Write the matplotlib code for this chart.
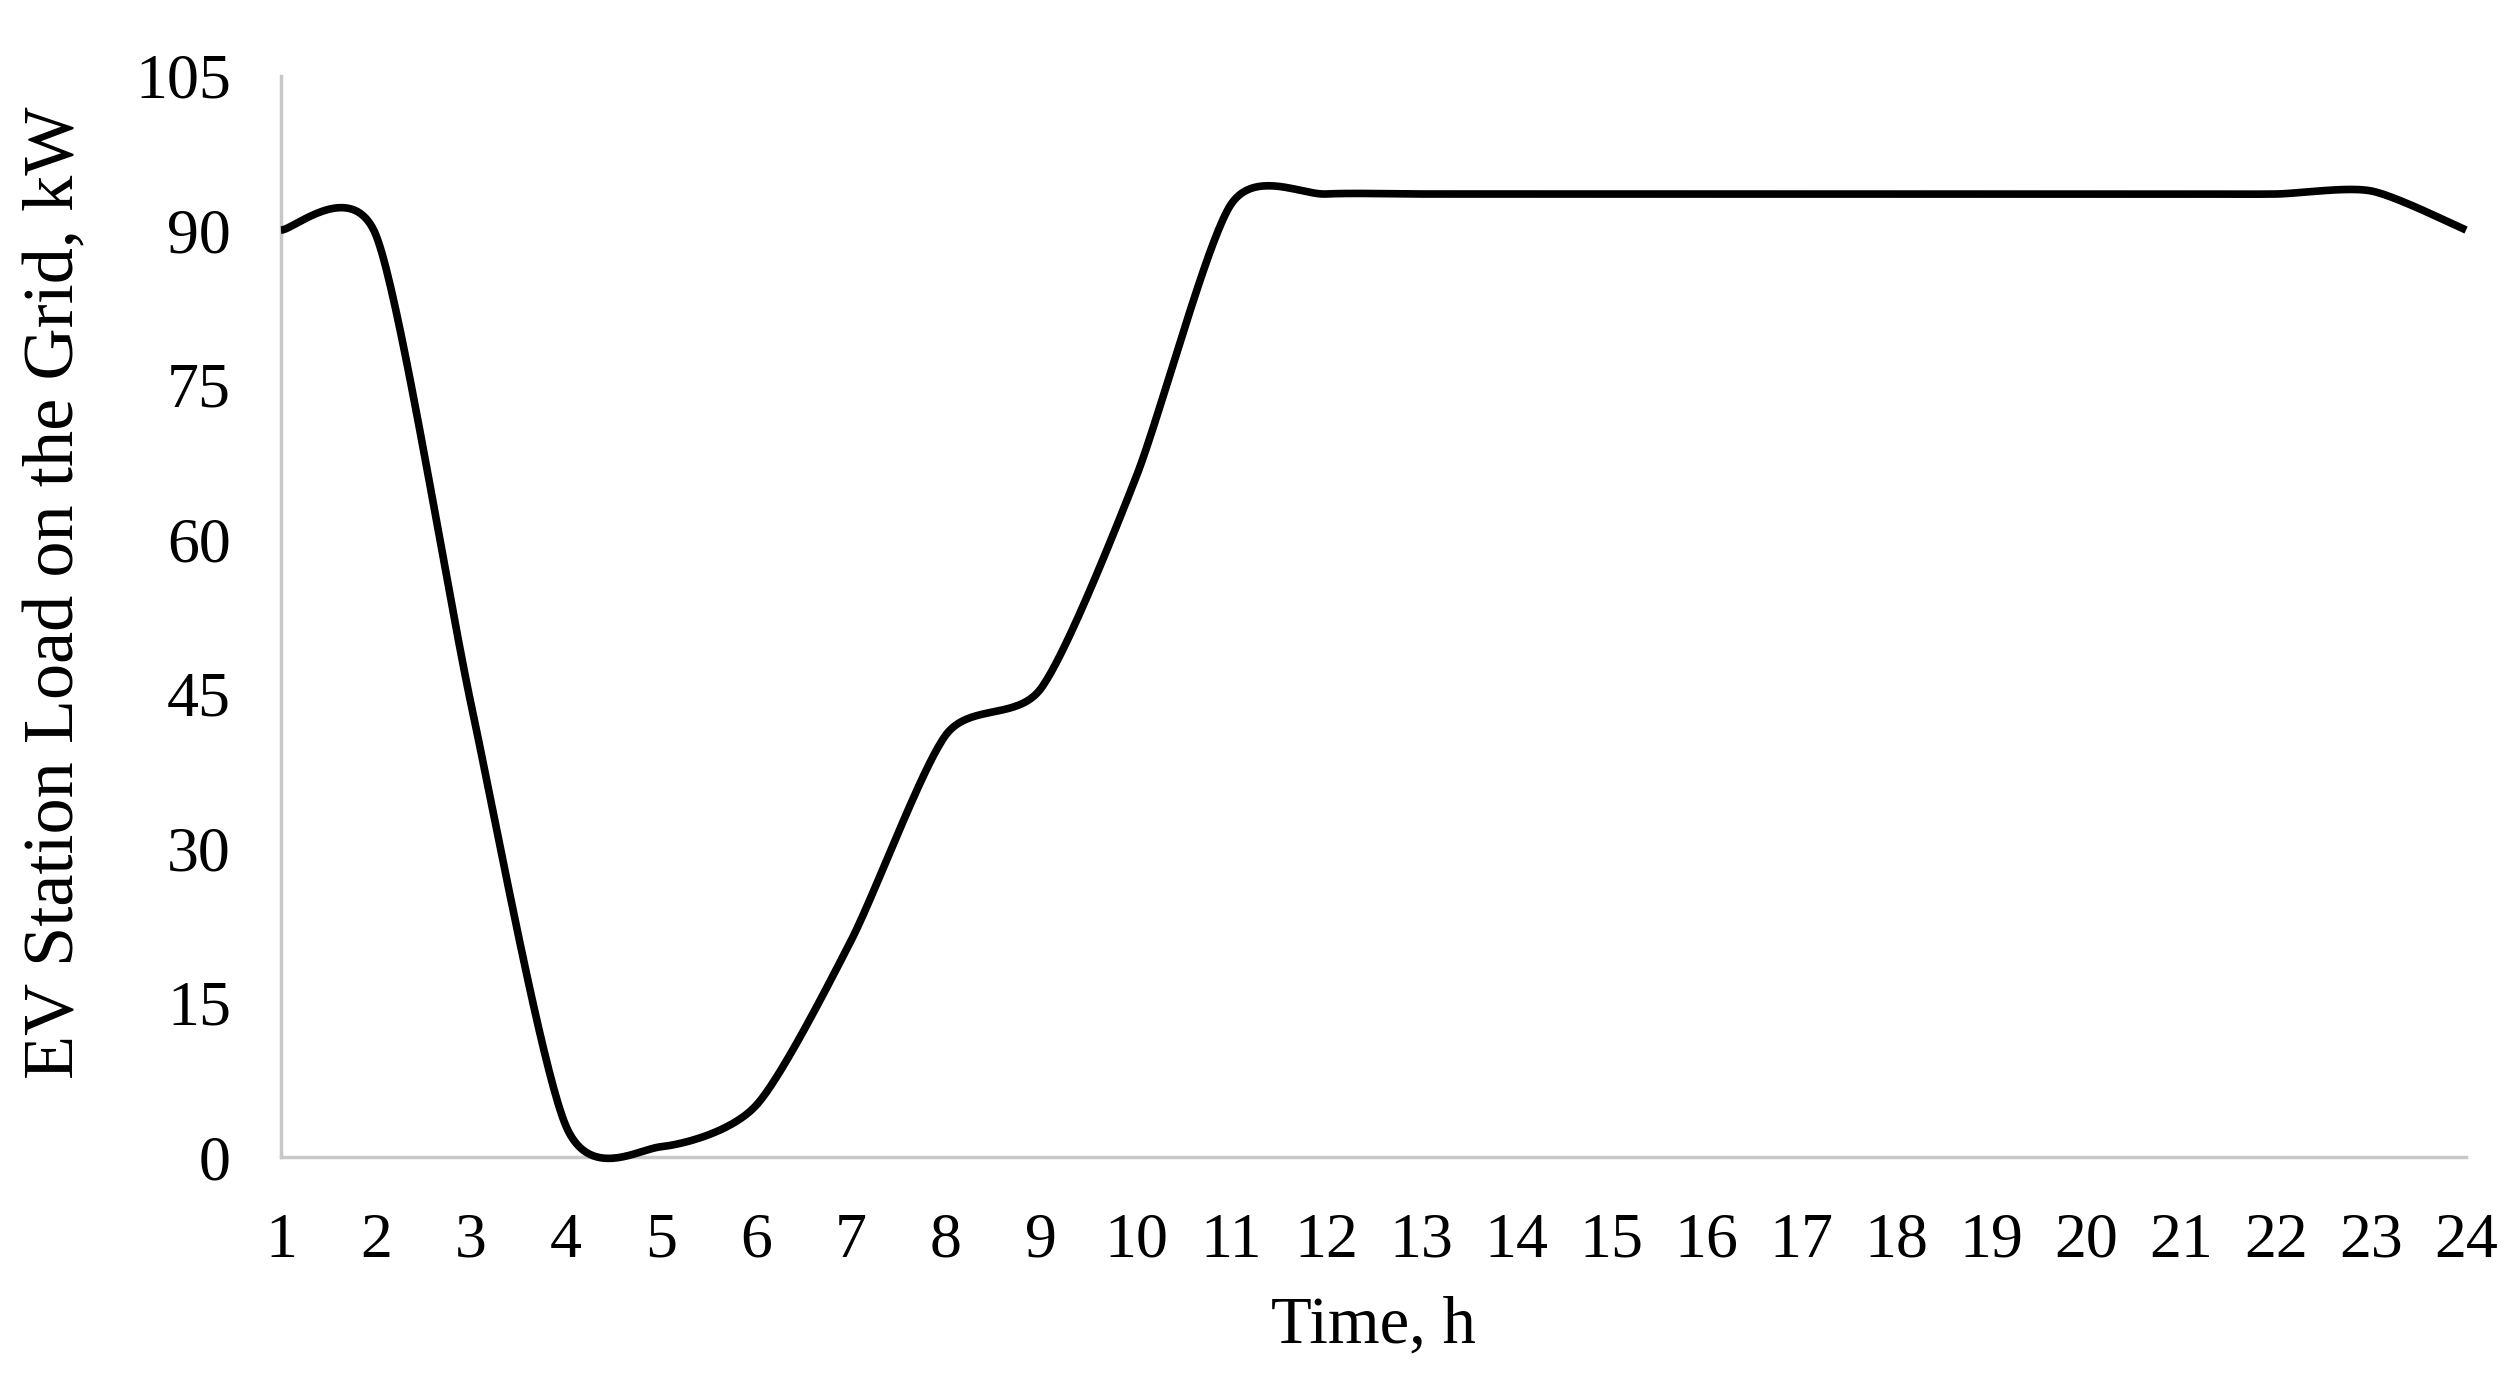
import matplotlib.pyplot as plt
import numpy as np

hours = np.arange(1, 25)
load_kw = [90, 89.5, 44, 3, 1, 5, 21, 41, 45.5, 66, 92.5, 93.5,
           93.5, 93.5, 93.5, 93.5, 93.5, 93.5, 93.5, 93.5, 93.5, 93.5, 93.8, 90]
y_ticks = [0, 15, 30, 45, 60, 75, 90, 105]


def smooth(x, y, k=8.0, n=40):
    # Bezier smoothing through the points (like an Excel "smoothed line")
    x = np.asarray(x, float)
    y = np.asarray(y, float)
    px = np.concatenate([[x[0]], x, [x[-1]]])
    py = np.concatenate([[y[0]], y, [y[-1]]])
    xs, ys = [], []
    t = np.linspace(0, 1, n)
    for i in range(1, len(px) - 2):
        p0, p1, p2, p3 = [np.array([px[j], py[j]]) for j in range(i - 1, i + 3)]
        c1 = p1 + (p2 - p0) / k
        c2 = p2 - (p3 - p1) / k
        b = ((1 - t) ** 3)[:, None] * p1 + (3 * (1 - t) ** 2 * t)[:, None] * c1 \
            + (3 * (1 - t) * t ** 2)[:, None] * c2 + (t ** 3)[:, None] * p2
        xs.extend(b[:, 0])
        ys.extend(b[:, 1])
    return xs, ys


plt.rcParams['font.family'] = ['Liberation Serif', 'DejaVu Serif']

fig = plt.figure(figsize=(25.2, 13.89), dpi=100)
ax = fig.add_axes([0.1115, 0.167, 0.8671, 0.7786])

sx, sy = smooth(hours, load_kw)
ax.plot(sx, sy, color='black', linewidth=5.5, solid_capstyle='butt',
        clip_on=False, zorder=3)

ax.set_xlim(1, 24)
ax.set_ylim(0, 105)
ax.set_xticks(hours)
ax.set_yticks(y_ticks)
ax.tick_params(length=0, labelsize=46)
ax.tick_params(axis='x', pad=40)
ax.tick_params(axis='y', pad=36)

for s in ['top', 'right']:
    ax.spines[s].set_visible(False)
for s in ['left', 'bottom']:
    ax.spines[s].set_color('#c8c8c8')
    ax.spines[s].set_linewidth(2.5)

ax.set_xlabel("Time, h", fontsize=48, labelpad=18)
ax.set_ylabel("EV Station Load on the Grid, kW", fontsize=52)
ax.yaxis.set_label_coords(-0.088, 0.522)

fig.savefig("out.png", dpi=100)
